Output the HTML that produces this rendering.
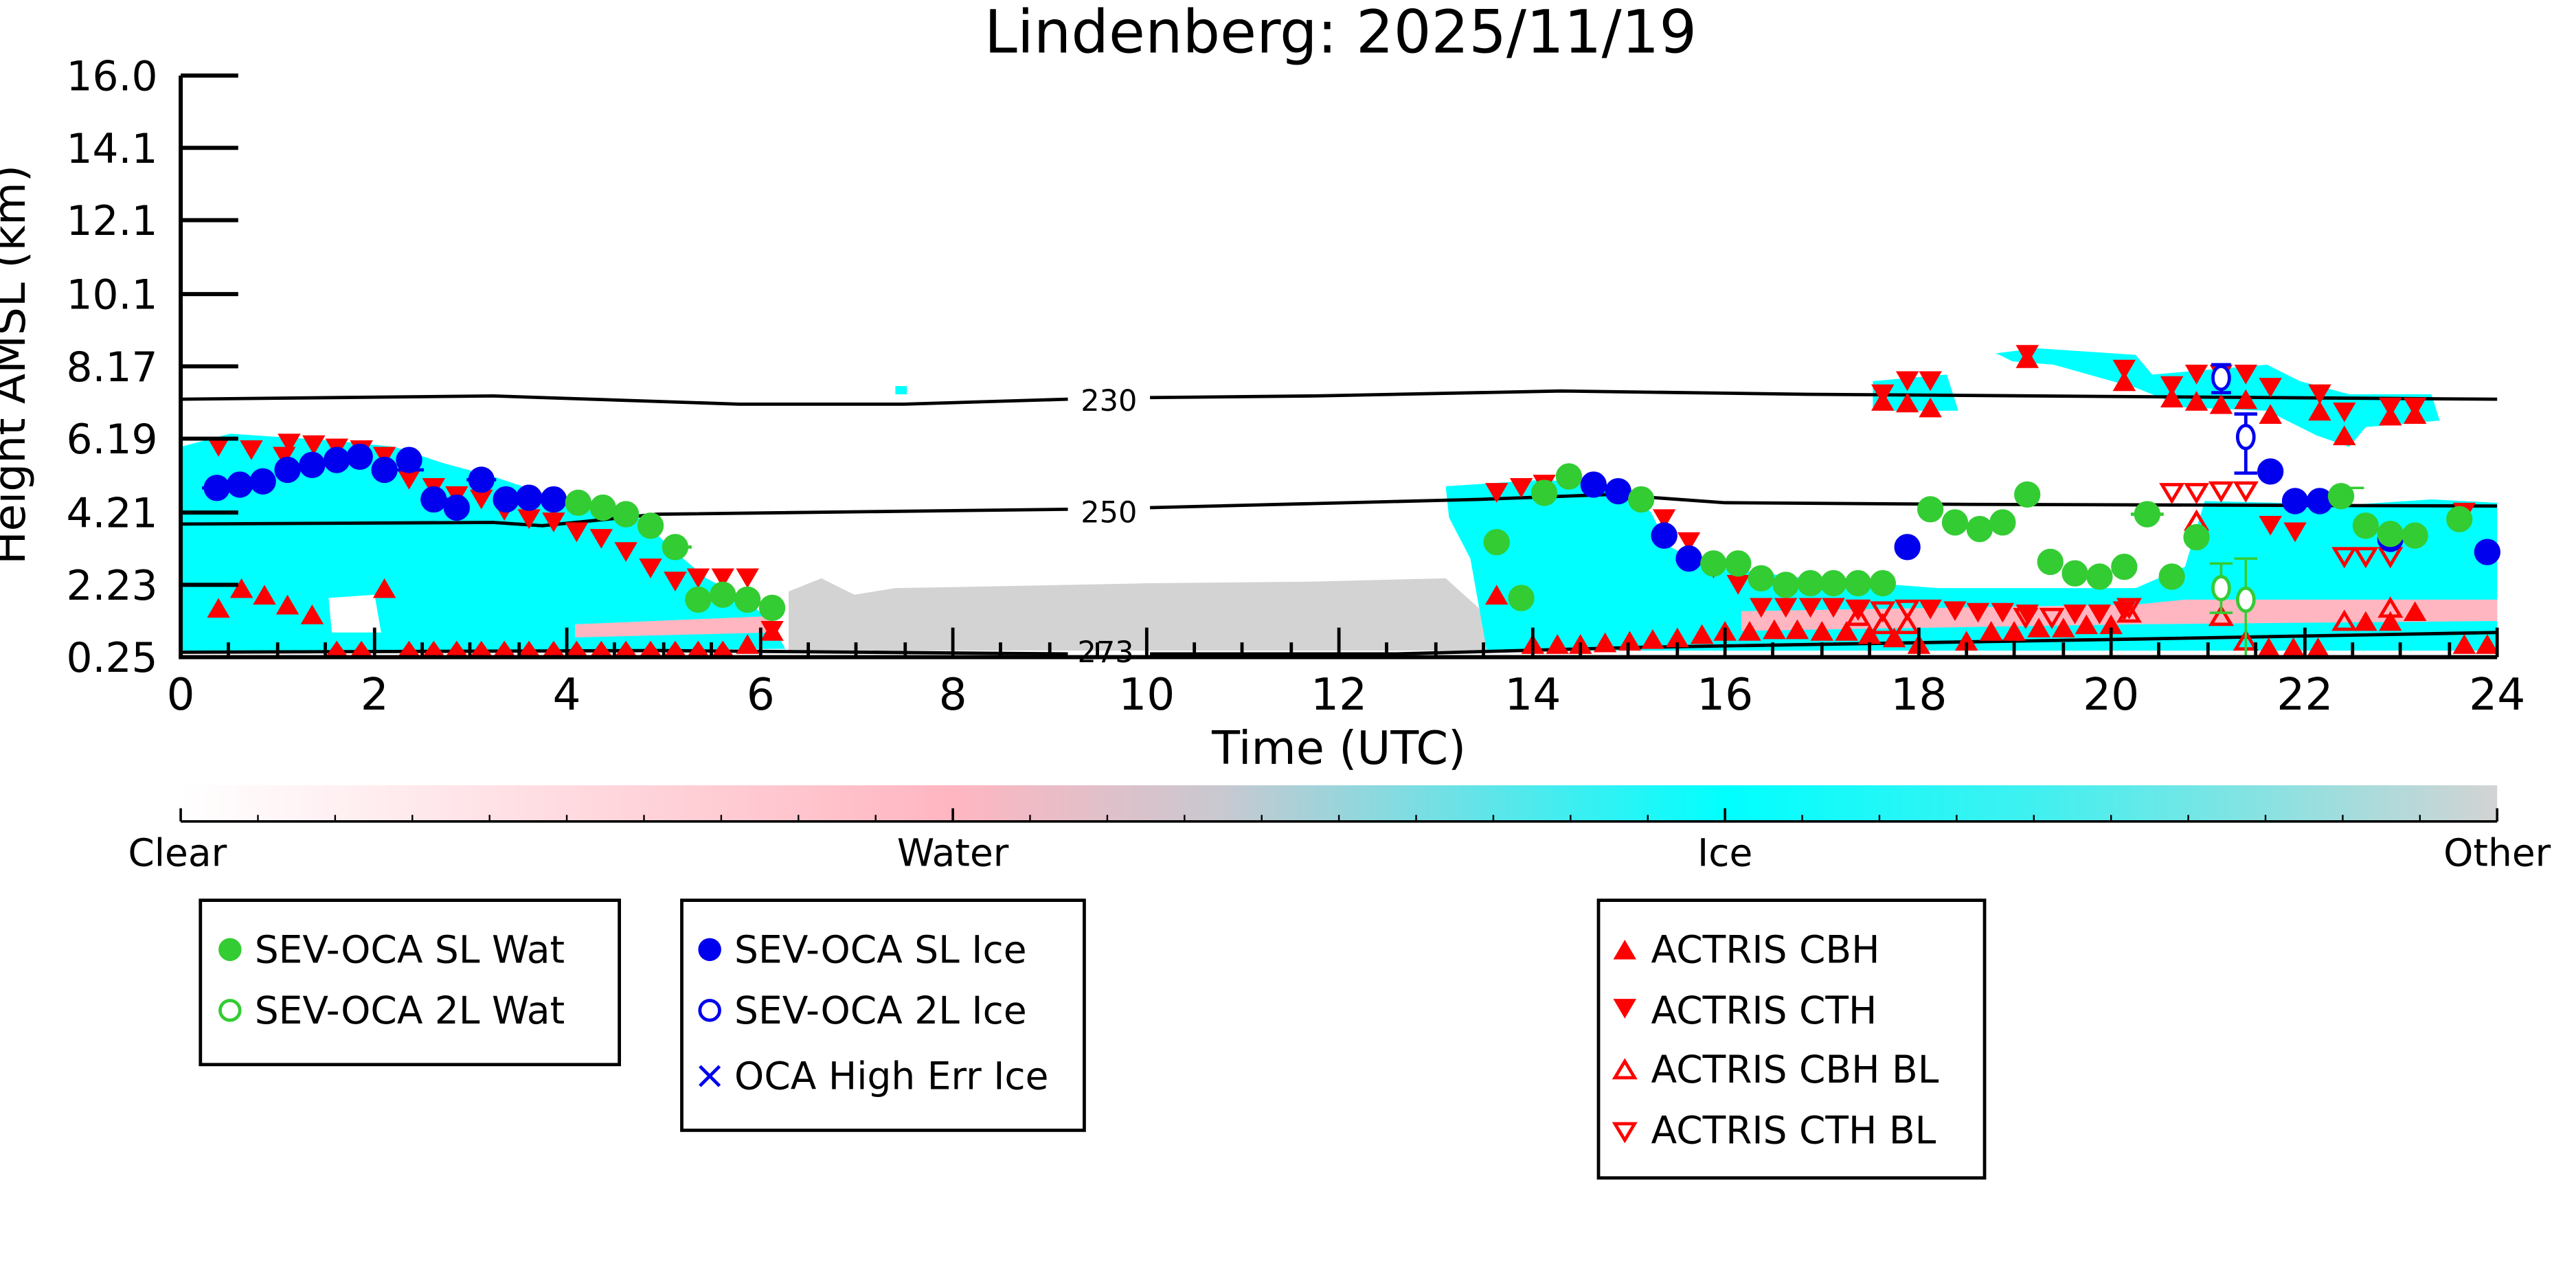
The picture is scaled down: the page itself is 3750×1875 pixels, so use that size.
<!DOCTYPE html>
<html><head><meta charset="utf-8"><style>html,body{margin:0;padding:0;background:#fff}svg{display:block}</style></head>
<body>
<svg xmlns="http://www.w3.org/2000/svg" width="3750" height="1875" viewBox="0 0 1568 784" font-family="DejaVu Sans, Liberation Sans, sans-serif">
<defs>
<linearGradient id="cb" x1="0" x2="1" y1="0" y2="0">
<stop offset="0" stop-color="#ffffff"/><stop offset="0.333" stop-color="#ffb6c1"/>
<stop offset="0.45" stop-color="#c8c8d0"/><stop offset="0.667" stop-color="#00ffff"/>
<stop offset="0.8" stop-color="#40f0f0"/><stop offset="1" stop-color="#d3d3d3"/>
</linearGradient>
</defs>
<text x="816" y="32" font-size="36" text-anchor="middle">Lindenberg: 2025/11/19</text>
<g fill="#d3d3d3">
<polygon points="480,360 500,352 520,362 545,358 600,357 700,355 800,354 880,352 900,370 910,396 480,396"/>
<polygon points="135,365 160,355 200,358 250,352 260,396 135,396"/>
<polygon points="1000,380 1520,375 1520,396 1000,396"/>
</g>
<g fill="#00ffff">
<polygon points="110,272 140,264 200,268 240,272 270,282 300,290 330,300 360,305 390,316 410,335 430,352 455,365 470,380 478,395 110,396"/>
<polygon points="880,296 940,292 990,296 1005,312 1015,332 1040,345 1100,352 1180,358 1300,358 1330,345 1342,305 1385,306 1420,308 1480,304 1520,306 1520,396 905,396 895,340 882,315"/>
<polygon points="1140,232 1185,228 1192,250 1140,250"/>
<polygon points="1215,215 1240,212 1300,216 1310,228 1380,222 1400,232 1430,240 1480,240 1485,256 1440,260 1430,272 1410,265 1380,250 1330,248 1300,236 1250,222 1225,220"/>
<polygon points="545,235 552,235 552,240 545,240"/>
</g>
<g fill="#ffb6c1">
<polygon points="1060,372 1300,368 1330,365 1520,365 1520,378 1300,380 1060,384"/>
<polygon points="350,380 470,375 470,385 350,388"/>
</g>
<polygon points="200,364 228,362 232,385 202,385" fill="#fff"/>
<g fill="none" stroke="#000" stroke-width="2">
<polyline points="110,243 300,241 450,246 550,246 650,243"/><polyline points="700,242 800,241 950,238 1100,240 1520,243"/>
<polyline points="110,319 300,318 330,320 400,313 650,310"/><polyline points="700,309 900,304 980,301 1050,306 1200,307 1520,308"/>
<polyline points="110,397 400,396 650,398"/><polyline points="700,398 850,398 1000,394 1300,389 1520,385"/>
</g>
<g font-size="18" text-anchor="middle"><text x="675" y="250">230</text><text x="675" y="318">250</text><text x="673" y="403">273</text></g>
<g fill="#ff0000">
<path d="M126,266h14l-7,12z M146,268h14l-7,12z M166,272h14l-7,12z M169,264h14l-7,12z M184,265h14l-7,12z M198,267h14l-7,12z M213,268h14l-7,12z M227,272h14l-7,12z M242,286h14l-7,12z M257,291h14l-7,12z M271,296h14l-7,12z M286,298h14l-7,12z M300,305h14l-7,12z M315,310h14l-7,12z M330,312h14l-7,12z M344,318h14l-7,12z M359,322h14l-7,12z M374,330h14l-7,12z M389,340h14l-7,12z M404,348h14l-7,12z M418,346h14l-7,12z M433,346h14l-7,12z M448,346h14l-7,12z M463,378h14l-7,12z"/>
<path d="M904,294h14l-7,12z M919,291h14l-7,12z M933,289h14l-7,12z M948,286h14l-7,12z M992,300h14l-7,12z M1006,310h14l-7,12z M1021,324h14l-7,12z M1036,340h14l-7,12z M1051,350h14l-7,12z M1065,364h14l-7,12z M1080,364h14l-7,12z M1095,364h14l-7,12z M1109,364h14l-7,12z M1124,365h14l-7,12z M1168,365h14l-7,12z M1183,366h14l-7,12z M1197,367h14l-7,12z M1212,367h14l-7,12z M1227,368h14l-7,12z M1256,368h14l-7,12z M1271,368h14l-7,12z M1286,366h14l-7,12z M1375,314h14l-7,12z M1390,318h14l-7,12z M1493,306h14l-7,12z"/>
<path d="M1139,234h14l-7,12z M1154,226h14l-7,12z M1168,226h14l-7,12z M1227,210h14l-7,12z M1286,219h14l-7,12z M1315,229h14l-7,12z M1330,222h14l-7,12z M1345,222h14l-7,12z M1360,222h14l-7,12z M1375,230h14l-7,12z M1405,234h14l-7,12z M1420,245h14l-7,12z M1448,242h14l-7,12z M1463,242h14l-7,12z"/>
<path d="M126,376h14l-7,-12z M140,364h14l-7,-12z M154,368h14l-7,-12z M168,374h14l-7,-12z M183,380h14l-7,-12z M227,364h14l-7,-12z M904,368h14l-7,-12z"/>
<path d="M198,400h14l-7,-10z M213,400h14l-7,-10z M242,400h14l-7,-10z M257,400h14l-7,-10z M271,400h14l-7,-10z M286,400h14l-7,-10z M300,400h14l-7,-10z M315,400h14l-7,-10z M330,400h14l-7,-10z M344,400h14l-7,-10z M359,400h14l-7,-10z M374,400h14l-7,-10z M389,400h14l-7,-10z M404,400h14l-7,-10z M418,400h14l-7,-10z M433,400h14l-7,-10z M448,398h14l-7,-12z M463,390h14l-7,-12z"/>
<path d="M926,398h14l-7,-12z M941,398h14l-7,-12z M955,398h14l-7,-12z M970,397h14l-7,-12z M985,396h14l-7,-12z M999,395h14l-7,-12z M1014,394h14l-7,-12z M1029,392h14l-7,-12z M1043,390h14l-7,-12z M1058,390h14l-7,-12z M1073,389h14l-7,-12z M1087,389h14l-7,-12z M1102,390h14l-7,-12z M1117,390h14l-7,-12z M1131,392h14l-7,-12z M1146,394h14l-7,-12z M1161,398h14l-7,-12z M1190,396h14l-7,-12z M1205,390h14l-7,-12z M1219,390h14l-7,-12z M1234,388h14l-7,-12z M1249,388h14l-7,-12z M1263,386h14l-7,-12z M1278,386h14l-7,-12z M1374,400h14l-7,-12z M1389,400h14l-7,-12z M1404,400h14l-7,-12z M1433,384h14l-7,-12z M1448,384h14l-7,-12z M1463,378h14l-7,-12z M1493,398h14l-7,-12z M1507,398h14l-7,-12z"/>
<path d="M1139,250h14l-7,-12z M1154,251h14l-7,-12z M1168,254h14l-7,-12z M1227,224h14l-7,-12z M1286,238h14l-7,-12z M1315,248h14l-7,-12z M1330,250h14l-7,-12z M1345,252h14l-7,-12z M1360,249h14l-7,-12z M1375,258h14l-7,-12z M1405,256h14l-7,-12z M1420,271h14l-7,-12z M1448,259h14l-7,-12z M1463,258h14l-7,-12z"/>
</g>
<g fill="none" stroke="#ff0000" stroke-width="2">
<path d="M1125,366h12l-6,10z M1140,367h12l-6,10z M1155,366h12l-6,10z M1227,371h12l-6,10z M1243,371h12l-6,10z M1290,365h12l-6,10z M1316,295h12l-6,10z M1331,295h12l-6,10z M1346,294h12l-6,10z M1361,294h12l-6,10z M1421,334h12l-6,10z M1434,334h12l-6,10z M1449,334h12l-6,10z"/>
<path d="M1331,322h12l-6,-10z M1346,380h12l-6,-10z M1361,395h12l-6,-10z M1421,383h12l-6,-10z M1449,375h12l-6,-10z M1125,380h12l-6,-10z M1140,385h12l-6,-10z M1155,385h12l-6,-10z M1290,378h12l-6,-10z"/>
</g>
<g fill="#0000ee" stroke="#0000ee" stroke-width="2">
<circle cx="132" cy="297" r="7"/><circle cx="146" cy="295" r="7"/><circle cx="160" cy="293" r="7"/><circle cx="175" cy="286" r="7"/><circle cx="190" cy="283" r="7"/><circle cx="205" cy="280" r="7"/><circle cx="219" cy="278" r="7"/><circle cx="234" cy="286" r="7"/><circle cx="249" cy="280" r="7"/><circle cx="264" cy="304" r="7"/><circle cx="278" cy="309" r="7"/><circle cx="293" cy="292" r="7"/><circle cx="308" cy="304" r="7"/><circle cx="322" cy="303" r="7"/><circle cx="337" cy="304" r="7"/>
<circle cx="970" cy="295" r="7"/><circle cx="985" cy="299" r="7"/><circle cx="1013" cy="326" r="7"/><circle cx="1028" cy="340" r="7"/><circle cx="1161" cy="333" r="7"/><circle cx="1382" cy="287" r="7"/><circle cx="1397" cy="305" r="7"/><circle cx="1412" cy="305" r="7"/><circle cx="1455" cy="328" r="7"/><circle cx="1514" cy="336" r="7"/>
<path d="M123,297h18M137,295h18M240,286h18M256,304h18M284,292h18M1390,305h30M1005,326h16M1375,287h14" fill="none"/>
</g>
<g fill="#33cc33" stroke="#33cc33" stroke-width="2">
<circle cx="352" cy="306" r="7"/><circle cx="367" cy="309" r="7"/><circle cx="381" cy="313" r="7"/><circle cx="396" cy="320" r="7"/><circle cx="411" cy="333" r="7"/><circle cx="425" cy="365" r="7"/><circle cx="440" cy="362" r="7"/><circle cx="455" cy="365" r="7"/><circle cx="470" cy="370" r="7"/>
<circle cx="911" cy="330" r="7"/><circle cx="926" cy="364" r="7"/><circle cx="940" cy="300" r="7"/><circle cx="955" cy="290" r="7"/><circle cx="999" cy="304" r="7"/><circle cx="1043" cy="343" r="7"/><circle cx="1058" cy="343" r="7"/><circle cx="1072" cy="352" r="7"/><circle cx="1087" cy="356" r="7"/><circle cx="1102" cy="355" r="7"/><circle cx="1116" cy="355" r="7"/><circle cx="1131" cy="355" r="7"/><circle cx="1146" cy="355" r="7"/><circle cx="1175" cy="310" r="7"/><circle cx="1190" cy="318" r="7"/><circle cx="1205" cy="322" r="7"/><circle cx="1219" cy="318" r="7"/><circle cx="1234" cy="301" r="7"/><circle cx="1248" cy="342" r="7"/><circle cx="1263" cy="349" r="7"/><circle cx="1278" cy="351" r="7"/><circle cx="1293" cy="345" r="7"/><circle cx="1307" cy="313" r="7"/><circle cx="1322" cy="351" r="7"/><circle cx="1337" cy="327" r="7"/><circle cx="1425" cy="302" r="7"/><circle cx="1440" cy="320" r="7"/><circle cx="1455" cy="325" r="7"/><circle cx="1470" cy="326" r="7"/><circle cx="1497" cy="316" r="7"/>
<path d="M403,333h18M417,365h36M903,330h16M1035,343h30M1138,355h16M1297,313h20M1417,302h16" fill="none"/>
<path d="M1367,340v60M1360,340h14M1352,343v30M1345,343h14M1345,373h14M1425,297h14" fill="none" stroke-width="1.5"/>
</g>
<g fill="#fff" stroke="#33cc33" stroke-width="2"><ellipse cx="1352" cy="358" rx="5" ry="7"/><ellipse cx="1367" cy="365" rx="5" ry="7"/></g>
<g fill="none" stroke="#0000ee" stroke-width="2"><path d="M1352,222v16M1346,222h12M1346,239h12M1367,252v36M1360,252h14M1360,288h14"/><ellipse cx="1352" cy="230" rx="5" ry="7" fill="#fff"/><ellipse cx="1367" cy="266" rx="5" ry="7" fill="#fff"/></g>
<g stroke="#000" stroke-width="2.5" fill="none">
<path d="M110,46V400H1520"/>
<path d="M110,46h35M110,90h35M110,134h35M110,179h35M110,223h35M110,267h35M110,312h35M110,356h35"/>
</g>
<g stroke="#000" stroke-width="2">
<path d="M110,400v-18M139,400v-9M169,400v-9M198,400v-9M228,400v-18M257,400v-9M286,400v-9M316,400v-9M345,400v-18M374,400v-9M404,400v-9M433,400v-9M463,400v-18M492,400v-9M521,400v-9M551,400v-9M580,400v-18M609,400v-9M639,400v-9M668,400v-9M698,400v-18M727,400v-9M756,400v-9M786,400v-9M815,400v-18M844,400v-9M874,400v-9M903,400v-9M933,400v-18M962,400v-9M991,400v-9M1021,400v-9M1050,400v-18M1079,400v-9M1109,400v-9M1138,400v-9M1168,400v-18M1197,400v-9M1226,400v-9M1256,400v-9M1285,400v-18M1314,400v-9M1344,400v-9M1373,400v-9M1403,400v-18M1432,400v-9M1461,400v-9M1491,400v-9M1520,400v-18"/>
</g>
<g font-size="25" text-anchor="end">
<text x="96" y="55">16.0</text><text x="96" y="99">14.1</text><text x="96" y="143">12.1</text><text x="96" y="188">10.1</text><text x="96" y="232">8.17</text><text x="96" y="276">6.19</text><text x="96" y="321">4.21</text><text x="96" y="365">2.23</text><text x="96" y="409">0.25</text>
</g>
<text transform="translate(15,222) rotate(-90)" font-size="27" text-anchor="middle">Height AMSL (km)</text>
<g font-size="27" text-anchor="middle">
<text x="110" y="432">0</text><text x="228" y="432">2</text><text x="345" y="432">4</text><text x="463" y="432">6</text><text x="580" y="432">8</text><text x="698" y="432">10</text><text x="815" y="432">12</text><text x="933" y="432">14</text><text x="1050" y="432">16</text><text x="1168" y="432">18</text><text x="1285" y="432">20</text><text x="1403" y="432">22</text><text x="1520" y="432">24</text>
</g>
<text x="815" y="465" font-size="28" text-anchor="middle">Time (UTC)</text>
<rect x="110" y="478" width="1410" height="22" fill="url(#cb)"/>
<path d="M110,500H1520" stroke="#000" stroke-width="1.5"/>
<path d="M110,500v-8M1520,500v-8M580,500v-8M1050,500v-8" stroke="#000" stroke-width="1.5"/>
<g stroke="#000" stroke-width="1"><path d="M157,500v-4M204,500v-4M251,500v-4M298,500v-4M345,500v-4M392,500v-4M439,500v-4M486,500v-4M533,500v-4M627,500v-4M674,500v-4M721,500v-4M768,500v-4M815,500v-4M862,500v-4M909,500v-4M956,500v-4M1003,500v-4M1097,500v-4M1144,500v-4M1191,500v-4M1238,500v-4M1285,500v-4M1332,500v-4M1379,500v-4M1426,500v-4M1473,500v-4"/></g>
<g font-size="23" text-anchor="middle"><text x="108" y="527">Clear</text><text x="580" y="527">Water</text><text x="1050" y="527">Ice</text><text x="1520" y="527">Other</text></g>
<g fill="none" stroke="#000" stroke-width="2"><rect x="122" y="548" width="255" height="100"/><rect x="415" y="548" width="245" height="140"/><rect x="973" y="548" width="235" height="169"/></g>
<g font-size="23">
<circle cx="140" cy="578" r="7" fill="#33cc33"/><text x="155" y="586">SEV-OCA SL Wat</text>
<circle cx="140" cy="615" r="6" fill="none" stroke="#33cc33" stroke-width="2"/><text x="155" y="623">SEV-OCA 2L Wat</text>
<circle cx="432" cy="578" r="7" fill="#0000ee"/><text x="447" y="586">SEV-OCA SL Ice</text>
<circle cx="432" cy="615" r="6" fill="none" stroke="#0000ee" stroke-width="2"/><text x="447" y="623">SEV-OCA 2L Ice</text>
<path d="M426,649l12,12M438,649l-12,12" stroke="#0000ee" stroke-width="2"/><text x="447" y="663">OCA High Err Ice</text>
<path d="M982,584h14l-7,-12z" fill="#ff0000"/><text x="1005" y="586">ACTRIS CBH</text>
<path d="M982,608h14l-7,12z" fill="#ff0000"/><text x="1005" y="623">ACTRIS CTH</text>
<path d="M983,656h12l-6,-10z" fill="none" stroke="#ff0000" stroke-width="2"/><text x="1005" y="659">ACTRIS CBH BL</text>
<path d="M983,684h12l-6,10z" fill="none" stroke="#ff0000" stroke-width="2"/><text x="1005" y="696">ACTRIS CTH BL</text>
</g>
</svg>
</body></html>
